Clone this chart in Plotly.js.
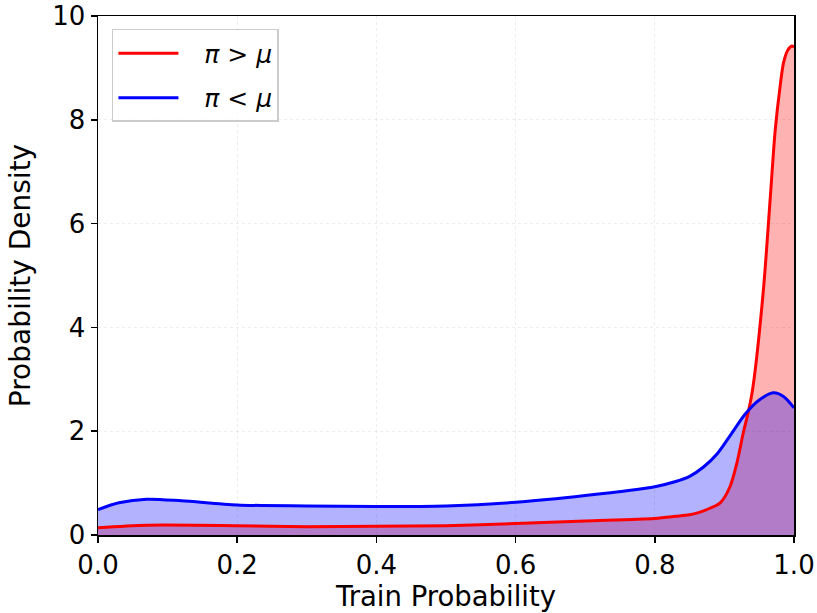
<!DOCTYPE html>
<html>
<head>
<meta charset="utf-8">
<script src="https://cdn.plot.ly/plotly-3.0.1.min.js"></script>
<style>html,body{margin:0;padding:0;background:#fff;}#chart{width:817px;height:613px;}</style>
</head>
<body>
<div id="chart"></div>
<script>
// π > μ  (red)
const redX = [0, 0.07, 0.2, 0.3, 0.4, 0.5, 0.6, 0.7, 0.8, 0.83, 0.85, 0.865, 0.88, 0.894, 0.908, 0.918, 0.927, 0.935, 0.941, 0.956, 0.966, 0.973, 0.98, 0.985, 0.991, 0.997, 1.0];
const redY = [0.14, 0.19, 0.18, 0.16, 0.17, 0.18, 0.22, 0.27, 0.32, 0.36, 0.39, 0.44, 0.52, 0.62, 0.93, 1.39, 1.96, 2.41, 2.85, 4.72, 6.52, 7.8, 8.64, 9.1, 9.34, 9.42, 9.4];
// π < μ  (blue)
const blueX = [0, 0.03, 0.07, 0.12, 0.2, 0.3, 0.4, 0.5, 0.6, 0.7, 0.8, 0.83, 0.85, 0.87, 0.89, 0.91, 0.93, 0.95, 0.97, 0.985, 1.0];
const blueY = [0.49, 0.62, 0.69, 0.66, 0.58, 0.56, 0.55, 0.56, 0.63, 0.76, 0.93, 1.03, 1.13, 1.31, 1.57, 1.95, 2.33, 2.6, 2.74, 2.67, 2.45];
const seriesNames = ['<i>π</i> > <i>μ</i>', '<i>π</i> < <i>μ</i>'];
const xTicks = [0, 0.2, 0.4, 0.6, 0.8, 1.0];
const xTickText = ['0.0', '0.2', '0.4', '0.6', '0.8', '1.0'];
const yTicks = [0, 2, 4, 6, 8, 10];

const font = 'DejaVu Sans, sans-serif';
const lineShape = {shape: 'spline', smoothing: 0.8};
const pad = '\u00a0\u00a0\u2009';
const traces = [
  {x: redX, y: redY, type: 'scatter', mode: 'none', showlegend: false,
   line: Object.assign({width: 0}, lineShape), fill: 'tozeroy', fillcolor: 'rgba(255,0,0,0.3)'},
  {x: blueX, y: blueY, type: 'scatter', mode: 'none', showlegend: false,
   line: Object.assign({width: 0}, lineShape), fill: 'tozeroy', fillcolor: 'rgba(0,0,255,0.3)'},
  {x: redX, y: redY, name: pad + seriesNames[0], legendgroup: 'r', type: 'scatter', mode: 'lines',
   line: Object.assign({color: 'rgb(255,0,0)', width: 3}, lineShape)},
  {x: blueX, y: blueY, name: pad + seriesNames[1], legendgroup: 'b', type: 'scatter', mode: 'lines',
   line: Object.assign({color: 'rgb(0,0,255)', width: 3}, lineShape)}
];
const axisCommon = {
  showline: true, linecolor: '#000', linewidth: 1.5, mirror: true,
  ticks: 'outside', ticklen: 6, tickwidth: 1.5, tickcolor: '#000',
  showgrid: true, gridcolor: 'rgba(0,0,0,0.09)', griddash: 'dot', gridwidth: 0.8,
  zeroline: false, tickfont: {family: font, size: 26, color: '#000'}
};
const layout = {
  width: 817, height: 613,
  margin: {l: 98, r: 23, t: 16, b: 78},
  paper_bgcolor: '#fff', plot_bgcolor: '#fff',
  showlegend: true,
  legend: {x: 0.02, y: 0.975, xanchor: 'left', yanchor: 'top',
    bgcolor: 'rgba(255,255,255,0.8)', bordercolor: '#cccccc', borderwidth: 1.5,
    font: {family: font, size: 25, color: '#000'}, itemwidth: 60,
    traceorder: 'grouped', tracegroupgap: 9},
  xaxis: Object.assign({}, axisCommon, {range: [0, 1], tickvals: xTicks, ticktext: xTickText,
    title: {text: 'Train Probability', font: {family: font, size: 27.5, color: '#000'}, standoff: 4}}),
  yaxis: Object.assign({}, axisCommon, {range: [0, 10], tickvals: yTicks,
    title: {text: 'Probability Density', font: {family: font, size: 28, color: '#000'}, standoff: 13}})
};
Plotly.newPlot('chart', traces, layout, {staticPlot: true, displayModeBar: false});
</script>
</body>
</html>
